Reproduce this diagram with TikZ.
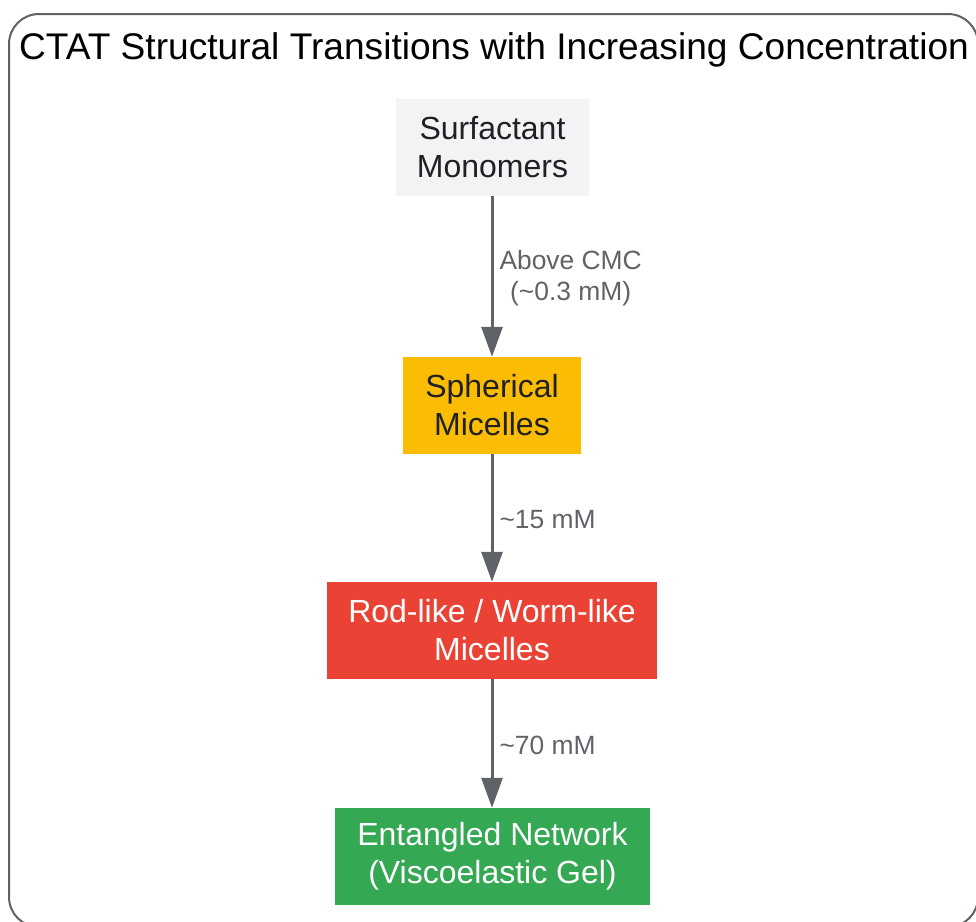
\documentclass[tikz,border=0pt]{standalone}
\usepackage{fontspec}
\setmainfont{Liberation Sans}
\usetikzlibrary{arrows.meta}
\definecolor{boxgray}{HTML}{F1F3F4}
\definecolor{gyellow}{HTML}{FBBC04}
\definecolor{gred}{HTML}{EA4335}
\definecolor{ggreen}{HTML}{34A853}
\definecolor{lgray}{HTML}{5F6368}
\definecolor{dtext}{HTML}{202124}
\tikzset{
  stepbox/.style={rectangle, draw=none, minimum height=97pt, inner sep=0pt, align=center,
    font=\fontsize{32}{38}\selectfont},
  flow/.style={draw=lgray, line width=3pt, -{Triangle[length=30pt,width=21pt]}},
  lbl/.style={midway, right, xshift=6pt, yshift=-2pt, inner sep=0pt, align=center, text=lgray,
    font=\fontsize{26.4}{31}\selectfont}
}
\begin{document}
\begin{tikzpicture}[x=1pt,y=-1pt]
\useasboundingbox (0,0) rectangle (976,921);
\begin{scope}
\clip (0,0) rectangle (976,921);
\draw[lgray, line width=2pt, rounded corners=30pt] (9,14) rectangle (978,927);
\end{scope}
\node[font=\fontsize{37.1}{44}\selectfont, text=black] (title) at (494,50) {CTAT Structural Transitions with Increasing Concentration};
\node[stepbox, fill=boxgray, text=dtext, minimum width=193pt] (mono) at (492.5,147.5) {Surfactant\\Monomers};
\node[stepbox, fill=gyellow, text=dtext, minimum width=178pt] (sph) at (492,405.5) {Spherical\\Micelles};
\node[stepbox, fill=gred, text=white, minimum width=330pt] (rod) at (492,630.5) {Rod-like / Worm-like\\Micelles};
\node[stepbox, fill=ggreen, text=white, minimum width=315pt] (ent) at (492.5,856.5) {Entangled Network\\(Viscoelastic Gel)};
\draw[flow] (mono.south -| 492,0) -- (sph.north -| 492,0) node[lbl] {Above CMC\\(\textasciitilde0.3 mM)};
\draw[flow] (sph) -- (rod) node[lbl] {\textasciitilde15 mM};
\draw[flow] (rod) -- (ent.north -| 492,0) node[lbl] {\textasciitilde70 mM};
\end{tikzpicture}
\end{document}
